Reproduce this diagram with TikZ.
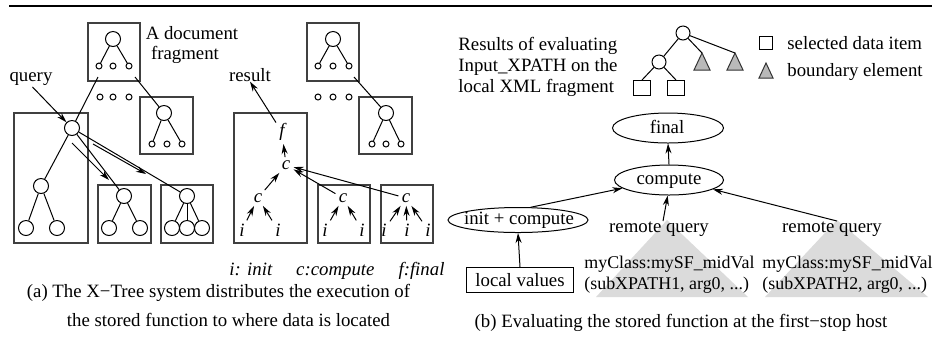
\documentclass[tikz,border=0pt]{standalone}
\usepackage{fontspec}
\setmainfont{Liberation Serif}
\usetikzlibrary{shapes.geometric,arrows.meta}
\begin{document}
\begin{tikzpicture}[x=0.5pt,y=-0.5pt,
 every node/.style={font=\fontsize{9.4}{10.5}\selectfont, inner sep=0pt},
 boxs/.style={draw=black!75, line width=0.6pt},
 bc/.style={circle, draw, line width=0.5pt, minimum size=7.5pt},
 sc/.style={circle, draw, line width=0.5pt, minimum size=3pt},
 sq/.style={rectangle, draw, line width=0.5pt, minimum width=8.5pt, minimum height=7.5pt},
 ell/.style={ellipse, draw, line width=0.5pt},
 ln/.style={line width=0.5pt},
 arr/.style={line width=0.5pt, -{Stealth[length=5pt,width=3pt]}},
 lt/.style={font=\fontsize{9.4}{10.5}\selectfont\itshape, inner sep=1.5pt},
 mct/.style={anchor=base west, font=\fontsize{8.95}{10.5}\selectfont},
 gtri/.style={draw=black!80, line width=0.5pt, fill=gray!55},
 bgtri/.style={fill=black!14, draw=none}]
\useasboundingbox (0,0) rectangle (935,345);
% top rule
\draw[line width=1.2pt] (9,6) -- (932,6);

% ===== (a) left tree =====
\draw[boxs] (88,23) rectangle (140,81);
\node[bc] (ta) at (113,39) {};
\node[sc] (ta1) at (99,66) {};
\node[sc] (ta2) at (113,66) {};
\node[sc] (ta3) at (129,66) {};
\draw[ln] (ta) -- (ta1); \draw[ln] (ta) -- (ta3);
\node[sc] (da1) at (100,97) {};
\node[sc] (da2) at (113,97) {};
\node[sc] (da3) at (129,97) {};
\draw[boxs] (140,97) rectangle (193,154);
\node[bc] (tb) at (164,113) {};
\node[sc] (tb1) at (152,144) {};
\node[sc] (tb2) at (167,144) {};
\node[sc] (tb3) at (182,144) {};
\draw[ln] (tb) -- (tb1); \draw[ln] (tb) -- (tb3);
\node[anchor=base] (doc1) at (192,39) {A document};
\node[anchor=base] (doc2) at (185,59) {fragment};
\node[anchor=base] (query) at (31,81) {query};

\draw[boxs] (14,113) rectangle (88,243);
\node[bc] (lr) at (72,128) {};
\node[bc] (lc) at (41,186) {};
\node[bc] (ll1) at (26,228) {};
\node[bc] (ll2) at (57,228) {};
\draw[ln] (lr) -- (lc); \draw[ln] (lc) -- (ll1); \draw[ln] (lc) -- (ll2);
\coordinate (q1) at (98,77); \coordinate (q2) at (135,77);
\draw[ln] (q1) -- (lr); \draw[ln] (q2) -- (tb);
\draw[arr, shorten <=1pt] (query.south) -- (lr);

\draw[boxs] (98,185) rectangle (151,243);
\node[bc] (m) at (124,196) {};
\node[bc] (m1) at (109,228) {};
\node[bc] (m2) at (140,228) {};
\draw[ln] (m) -- (m1); \draw[ln] (m) -- (m2);
\draw[boxs] (161,185) rectangle (213,243);
\node[bc] (n) at (187,196) {};
\node[bc] (n1) at (172,228) {};
\node[bc] (n2) at (187,228) {};
\node[bc] (n3) at (202,228) {};
\draw[ln] (n) -- (n1); \draw[ln] (n) -- (n2); \draw[ln] (n) -- (n3);
\draw[ln] (lr) -- (m); \draw[ln] (lr) -- (n);
\coordinate (a1s) at (72,143); \coordinate (a1e) at (109,180);
\coordinate (a2s) at (93,144); \coordinate (a2e) at (146,174);
\draw[arr] (a1s) -- (a1e); \draw[arr] (a2s) -- (a2e);

% ===== (a) right: function tree =====
\node[anchor=base] (result) at (250,81) {result};
\draw[boxs] (234,113) rectangle (307,243);
\node[lt] (f) at (282,132) {f};
\node[lt] (c0) at (286,165) {c};
\node[lt] (c1) at (258,198) {c};
\node[lt] (i1) at (242,230) {i};
\node[lt] (i2) at (278,230) {i};
\draw[boxs] (318,185) rectangle (370,243);
\node[lt] (c2) at (343,198) {c};
\node[lt] (i3) at (325,230) {i};
\node[lt] (i4) at (362,230) {i};
\draw[boxs] (381,185) rectangle (433,243);
\node[lt] (c3) at (406,198) {c};
\node[lt] (i5) at (384,230) {i};
\node[lt] (i6) at (407,230) {i};
\node[lt] (i7) at (428,230) {i};
\draw[arr] (f) -- (result.south);
\draw[arr] (c0) -- (f);
\draw[arr] (c1) -- (c0);
\draw[arr] (i1) -- (c1); \draw[arr] (i2) -- (c1);
\draw[arr] (c2) -- (c0); \draw[arr] (c3) -- (c0);
\draw[arr] (i3) -- (c2); \draw[arr] (i4) -- (c2);
\draw[arr] (i5) -- (c3); \draw[arr] (i6) -- (c3); \draw[arr] (i7) -- (c3);

\draw[boxs] (307,23) rectangle (359,81);
\node[bc] (ua) at (333,39) {};
\node[sc] (ua1) at (318,66) {};
\node[sc] (ua2) at (333,66) {};
\node[sc] (ua3) at (349,66) {};
\draw[ln] (ua) -- (ua1); \draw[ln] (ua) -- (ua3);
\node[sc] (db1) at (318,97) {};
\node[sc] (db2) at (333,97) {};
\node[sc] (db3) at (349,97) {};
\draw[boxs] (359,97) rectangle (412,154);
\node[bc] (ub) at (386,113) {};
\node[sc] (ub1) at (372,144) {};
\node[sc] (ub2) at (386,144) {};
\node[sc] (ub3) at (401,144) {};
\draw[ln] (ub) -- (ub1); \draw[ln] (ub) -- (ub3);
\coordinate (q3) at (354,77);
\draw[ln] (q3) -- (ub);

\node[anchor=base west, font=\fontsize{9.4}{10.5}\selectfont\itshape] (leg) at (229,275) {i: init\hspace{12pt}c:compute\hspace{12pt}f:final};
\node[anchor=base] (capa1) at (218.5,297) {(a) The X−Tree system distributes the execution of};
\node[anchor=base] (capa2) at (228.5,326) {the stored function to where data is located};

% ===== (b) =====
\node[anchor=base west] (res1) at (458,50) {Results of evaluating};
\node[anchor=base west] (res2) at (458,71) {Input\_XPATH on the};
\node[anchor=base west] (res3) at (458,92) {local XML fragment};
\node[bc, minimum size=7pt] (br) at (683,33) {};
\node[bc, minimum size=7pt] (bch) at (659,62) {};
\node[sq] (s1) at (642,88) {};
\node[sq] (s2) at (676,88) {};
\coordinate (t1) at (702,53); \coordinate (t2) at (735,53);
\draw[gtri] (t1) -- (694,70) -- (710,70) -- cycle;
\draw[gtri] (t2) -- (727,70) -- (743,70) -- cycle;
\draw[ln] (br) -- (bch); \draw[ln] (br) -- (t1); \draw[ln] (br) -- (t2);
\draw[ln] (bch) -- (s1.north); \draw[ln] (bch) -- (s2.north);
\node[sq, minimum width=6.5pt, minimum height=6.5pt] (ls) at (766,43) {};
\node[anchor=base west] (lst) at (787,49) {selected data item};
\draw[gtri] (766,63) -- (759,78) -- (773,78) -- cycle;
\node[anchor=base west] (ltt) at (787,76) {boundary element};

% background triangles
\draw[bgtri] (667,220) -- (596,297) -- (748,297) -- cycle;
\draw[bgtri] (837,220) -- (765,297) -- (928,297) -- cycle;

\node[ell, minimum width=55.5pt, minimum height=15pt] (fin) at (668,128) {};
\node[anchor=base] (fint) at (667,133) {final};
\node[ell, minimum width=54.5pt, minimum height=15pt] (cmp) at (669,180) {};
\node[anchor=base] (cmpt) at (669,184) {compute};
\node[ell, minimum width=70pt, minimum height=12.5pt] (ini) at (518,220) {};
\node[anchor=base] (initt) at (519,224) {init + compute};
\node[draw, line width=0.5pt, minimum width=53.5pt, minimum height=12.5pt] (lv) at (520,280) {local values};
\node[anchor=base] (rq1) at (659,232) {remote query};
\node[anchor=base] (rq2) at (832,232) {remote query};
\node[mct] (mc1) at (584,268) {myClass:mySF\_midVal};
\node[mct] (mc1b) at (584,289) {(subXPATH1, arg0, ...)};
\node[mct] (mc2) at (762,268) {myClass:mySF\_midVal};
\node[mct] (mc2b) at (762,289) {(subXPATH2, arg0, ...)};

\draw[arr] (cmp.north) -- (fin.south);
\draw[arr] (ini.45) -- (cmp.190);
\draw[arr] (lv.north) -- (ini.south);
\draw[arr] ([xshift=2pt]rq1.north) -- (cmp.265);
\draw[arr] ([xshift=2.5pt]rq2.north) -- (cmp.-12);

\node[anchor=base] (capb) at (681,327) {(b) Evaluating the stored function at the first−stop host};
\end{tikzpicture}
\end{document}
